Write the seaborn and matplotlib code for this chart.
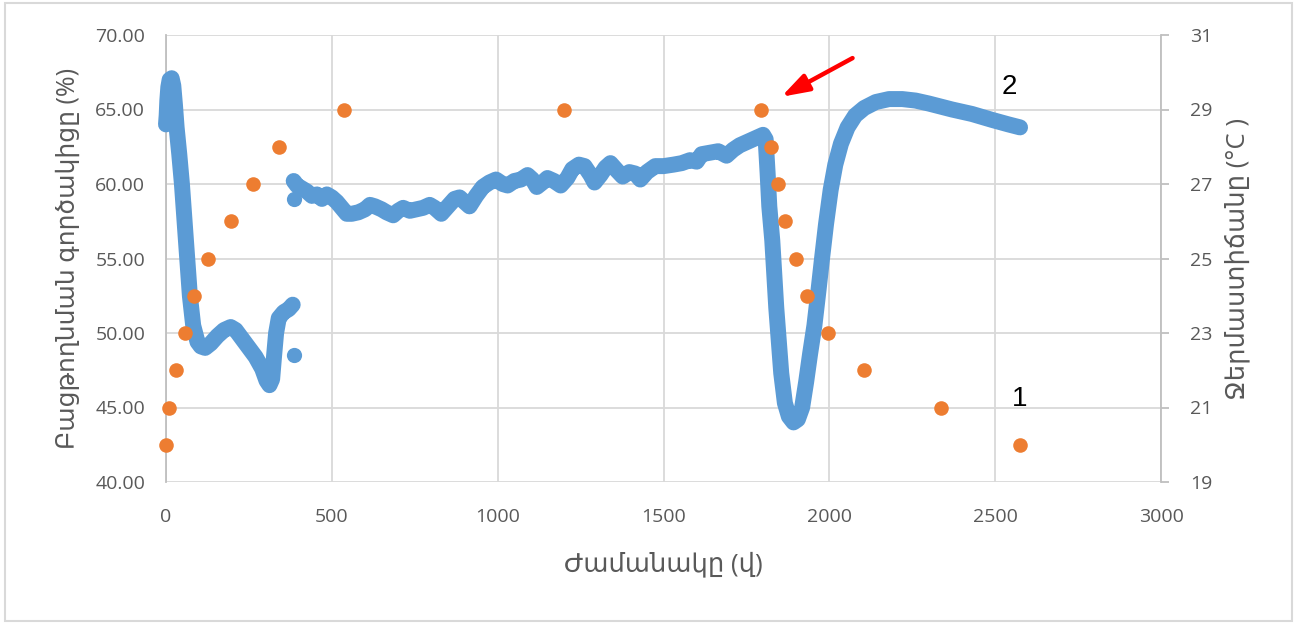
import numpy as np
import pandas as pd
import matplotlib
matplotlib.use("Agg")
import matplotlib.pyplot as plt
from matplotlib.patches import Rectangle
import seaborn as sns

# ---------------- data ----------------
# blue series (left axis, %) - first segment
seg1_t = [0, 2, 4, 7, 11, 17, 22, 27, 32, 40, 48, 56, 64, 72, 82, 95, 105, 118, 135,
          155, 175, 195, 210, 230, 250, 270, 290, 303, 312, 320, 326, 332, 340, 355, 370, 382]
seg1_v = [64.0, 64.6, 65.6, 66.5, 67.0, 67.1, 66.6, 65.3, 63.8, 62.0, 60.0, 57.5, 55.0, 52.5,
          50.5, 49.4, 49.1, 49.0, 49.3, 49.8, 50.2, 50.4, 50.2, 49.6, 49.0, 48.4, 47.6, 46.8,
          46.5, 46.9, 48.5, 50.0, 51.0, 51.4, 51.6, 51.9]

# blue series - second segment
seg2_t = [385, 395, 410, 425, 440, 455, 470, 485, 500, 515, 530, 545, 560, 580, 600, 615, 630,
          650, 665, 685, 700, 715, 735, 755, 775, 795, 810, 830, 850, 870, 885, 900, 915, 935,
          955, 975, 995, 1015, 1030, 1050, 1070, 1090, 1105, 1118, 1135, 1150, 1170, 1190, 1210,
          1225, 1245, 1262, 1280, 1292, 1310, 1325, 1340, 1360, 1377, 1397, 1415, 1430, 1450,
          1475, 1500, 1530, 1555, 1580, 1600, 1615, 1640, 1665, 1690, 1710, 1730, 1750, 1770,
          1790, 1800, 1808, 1814, 1819, 1828, 1840, 1855, 1866, 1878, 1892, 1905, 1918, 1930,
          1942, 1955, 1967, 1978, 1990, 2004, 2018, 2035, 2055, 2078, 2105, 2140, 2180, 2220,
          2260, 2300, 2370, 2430, 2491, 2540, 2575]
seg2_v = [60.2, 59.9, 59.7, 59.5, 59.2, 59.3, 59.0, 59.3, 59.1, 58.8, 58.4, 58.0, 58.0, 58.1,
          58.3, 58.6, 58.5, 58.3, 58.1, 57.9, 58.2, 58.4, 58.2, 58.3, 58.4, 58.6, 58.4, 58.0,
          58.5, 59.0, 59.1, 58.8, 58.5, 59.2, 59.8, 60.1, 60.3, 60.0, 59.9, 60.2, 60.3, 60.6,
          60.3, 59.8, 60.1, 60.4, 60.2, 59.9, 60.4, 61.0, 61.3, 61.2, 60.6, 60.1, 60.6, 61.1,
          61.4, 60.9, 60.5, 60.8, 60.7, 60.3, 60.8, 61.2, 61.2, 61.3, 61.4, 61.6, 61.5, 62.0,
          62.1, 62.2, 61.9, 62.3, 62.6, 62.8, 63.0, 63.2, 63.3, 63.0, 60.7, 58.5, 56.2, 51.7,
          47.3, 45.3, 44.4, 44.0, 44.2, 45.0, 46.7, 48.6, 50.5, 52.8, 55.0, 57.3, 59.6, 61.3,
          62.7, 63.8, 64.6, 65.1, 65.5, 65.7, 65.7, 65.6, 65.4, 65.0, 64.7, 64.3, 64.0, 63.8]

# isolated blue points
iso_t = [385, 385]
iso_v = [59.0, 48.5]

# orange series (right axis, deg C)
temp_t = [0, 8, 30, 57, 84, 126, 196, 262, 340, 536, 1199, 1795,
          1825, 1846, 1867, 1898, 1934, 1997, 2105, 2337, 2575]
temp_v = [20, 21, 22, 23, 24, 25, 26, 27, 28, 29, 29, 29,
          28, 27, 26, 25, 24, 23, 22, 21, 20]

left_ticks = [40, 45, 50, 55, 60, 65, 70]
right_ticks = [19, 21, 23, 25, 27, 29, 31]
x_ticks = [0, 500, 1000, 1500, 2000, 2500, 3000]

xlabel = "Ժամանակը (վ)"
ylabel_left = "Բացթողնման գործակիցը (%)"
ylabel_right = "Ջերմաստիճանը (°C )"

BLUE = "#5B9BD5"
ORANGE = "#ED7D31"
GRID = "#D9D9D9"
AXIS = "#BFBFBF"
TXT = "#595959"

# ---------------- plot ----------------
sns.set_style("white")
plt.rcParams["font.family"] = ["Open Sans", "DejaVu Sans"]

fig = plt.figure(figsize=(12.99, 6.23), dpi=100)
ax = fig.add_axes([166 / 1299, 1 - 482 / 623, (1161 - 166) / 1299, (482 - 35) / 623])

df1 = pd.DataFrame({"t": seg1_t, "v": seg1_v})
df2 = pd.DataFrame({"t": seg2_t, "v": seg2_v})
dfi = pd.DataFrame({"t": iso_t, "v": iso_v})
dft = pd.DataFrame({"t": temp_t, "v": temp_v})

for d in (df1, df2):
    sns.lineplot(data=d, x="t", y="v", ax=ax, color=BLUE, lw=11.5, sort=False,
                 estimator=None, solid_capstyle="round", solid_joinstyle="round",
                 clip_on=False, zorder=3)
sns.scatterplot(data=dfi, x="t", y="v", ax=ax, color=BLUE, s=120, linewidth=0,
                clip_on=False, zorder=3)

ax.set_xlim(0, 3000)
ax.set_ylim(40, 70)
ax.set_xticks(x_ticks)
ax.set_yticks(left_ticks)
ax.set_yticklabels([f"{v:.2f}" for v in left_ticks])
ax.grid(True, color=GRID, lw=1.3, zorder=0)
ax.set_axisbelow(True)
for s in ("top", "bottom", "right"):
    ax.spines[s].set_visible(False)
ax.spines["left"].set_color(AXIS)
ax.spines["left"].set_linewidth(1.3)
ax.tick_params(axis="both", length=0, labelsize=14, labelcolor=TXT)
ax.tick_params(axis="y", pad=15)
ax.tick_params(axis="x", pad=19)
ax.set_xlabel(xlabel, fontsize=18.5, color=TXT, labelpad=18)
ax.set_ylabel(ylabel_left, fontsize=18, color=TXT, labelpad=10)

ax2 = ax.twinx()
sns.scatterplot(data=dft, x="t", y="v", ax=ax2, color=ORANGE, s=110, linewidth=0,
                clip_on=False, zorder=4)
ax2.set_ylim(19, 31)
ax2.set_yticks(right_ticks)
ax2.grid(False)
for s in ("top", "bottom", "left"):
    ax2.spines[s].set_visible(False)
ax2.spines["right"].set_color(AXIS)
ax2.spines["right"].set_linewidth(1.3)
ax2.tick_params(axis="y", length=6, width=1.3, color=AXIS, labelsize=14,
                labelcolor=TXT, pad=15, direction="out")
ax2.set_ylabel(ylabel_right, fontsize=18.5, color=TXT, labelpad=9)
ax2.set_xlabel("")

# annotations
ax.annotate("", xy=(1855, 65.85), xytext=(2070, 68.45),
            arrowprops=dict(arrowstyle="-|>,head_length=1.1,head_width=0.36",
                            color="red", lw=3.2, mutation_scale=15,
                            shrinkA=0, shrinkB=0), zorder=6)
ax.text(2542, 66.5, "2", fontsize=20, color="black", ha="center", va="center",
        family=["Liberation Sans", "DejaVu Sans"], zorder=6)
ax.text(2575, 45.6, "1", fontsize=20, color="black", ha="center", va="center",
        family=["Liberation Sans", "DejaVu Sans"], zorder=6)

fig.add_artist(Rectangle((5 / 1299, 1 - 621 / 623), (1292 - 5) / 1299, (621 - 3) / 623,
                         transform=fig.transFigure, fill=False, ec=GRID, lw=1.5))

fig.savefig("out.png", dpi=100)
